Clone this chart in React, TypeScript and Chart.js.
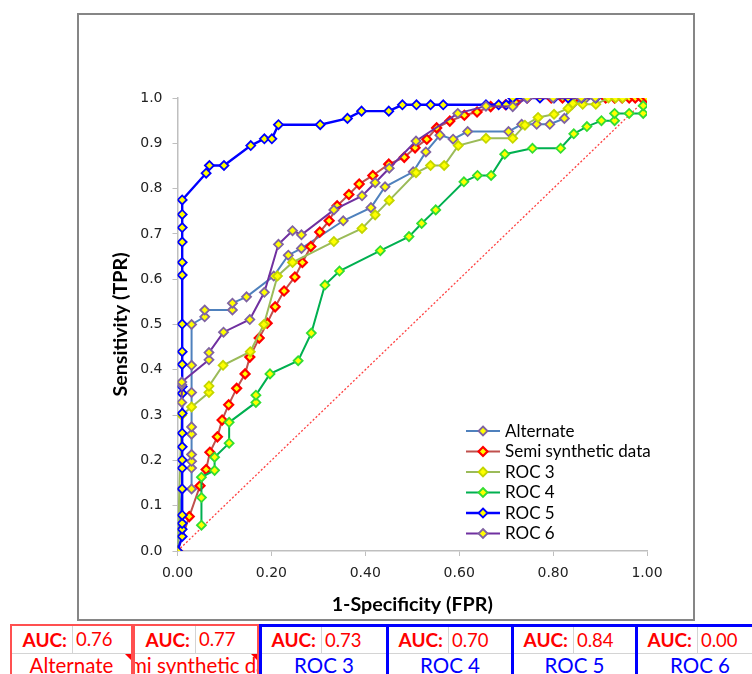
import React, { useEffect, useRef } from "react";
import { Chart, registerables } from "chart.js";

Chart.register(...registerables);

// ---------- data ----------
const seriesNames = ["Alternate", "Semi synthetic data", "ROC 3", "ROC 4", "ROC 5", "ROC 6"];
const aucValues = ["0.76", "0.77", "0.73", "0.70", "0.84", "0.00"];
const tableLabels = ["Alternate", "Semi synthetic data", "ROC 3", "ROC 4", "ROC 5", "ROC 6"];

const xTickValues = [0, 0.2, 0.4, 0.6, 0.8, 1.0];
const yTickValues = [0, 0.1, 0.2, 0.3, 0.4, 0.5, 0.6, 0.7, 0.8, 0.9, 1.0];

const alternateX = [0, 0.009, 0.03, 0.03, 0.03, 0.03, 0.03, 0.03, 0.03, 0.03, 0.03, 0.058, 0.058, 0.117, 0.117, 0.147, 0.205, 0.236, 0.264, 0.353, 0.412, 0.442, 0.502, 0.529, 0.559, 0.587, 0.618, 0.705, 0.733, 0.765, 0.793, 0.824, 0.84, 0.87, 1.0];
const alternateY = [0, 0.137, 0.137, 0.183, 0.198, 0.213, 0.258, 0.274, 0.35, 0.41, 0.5, 0.517, 0.532, 0.532, 0.547, 0.561, 0.607, 0.653, 0.668, 0.729, 0.758, 0.804, 0.837, 0.881, 0.918, 0.909, 0.926, 0.926, 0.942, 0.942, 0.942, 0.955, 0.985, 1.0, 1.0];

const semiX = [0, 0.025, 0.048, 0.061, 0.069, 0.085, 0.095, 0.109, 0.126, 0.144, 0.154, 0.174, 0.191, 0.208, 0.227, 0.25, 0.266, 0.284, 0.303, 0.323, 0.34, 0.365, 0.387, 0.416, 0.45, 0.483, 0.506, 0.531, 0.552, 0.58, 0.611, 0.638, 0.667, 0.699, 0.72, 0.745, 0.796, 0.82, 0.846, 0.912, 0.931, 0.947, 0.962, 0.975, 0.989, 1.0];
const semiY = [0, 0.076, 0.144, 0.18, 0.218, 0.252, 0.289, 0.323, 0.359, 0.391, 0.428, 0.47, 0.503, 0.539, 0.574, 0.605, 0.637, 0.672, 0.704, 0.729, 0.762, 0.787, 0.81, 0.829, 0.854, 0.869, 0.89, 0.909, 0.934, 0.949, 0.962, 0.969, 0.981, 0.985, 0.99, 1, 1, 1, 1, 1, 1, 1, 1, 1, 1, 1];

const roc3X = [0, 0.009, 0.03, 0.067, 0.067, 0.097, 0.155, 0.184, 0.213, 0.245, 0.333, 0.393, 0.421, 0.451, 0.508, 0.539, 0.568, 0.598, 0.657, 0.714, 0.74, 0.768, 0.802, 0.832, 0.842, 0.863, 0.891, 0.918, 0.933, 0.948];
const roc3Y = [0, 0.3, 0.318, 0.35, 0.364, 0.41, 0.44, 0.5, 0.607, 0.637, 0.683, 0.712, 0.742, 0.774, 0.835, 0.851, 0.851, 0.895, 0.911, 0.911, 0.94, 0.957, 0.964, 0.977, 0.988, 0.986, 0.986, 1, 1, 1];

const roc4X = [0.051, 0.051, 0.051, 0.079, 0.079, 0.11, 0.11, 0.167, 0.167, 0.197, 0.257, 0.285, 0.314, 0.345, 0.432, 0.493, 0.52, 0.55, 0.61, 0.639, 0.668, 0.697, 0.756, 0.816, 0.844, 0.872, 0.903, 0.931, 0.931, 0.962, 0.992, 0.992];
const roc4Y = [0.057, 0.118, 0.163, 0.178, 0.207, 0.238, 0.284, 0.328, 0.344, 0.391, 0.42, 0.481, 0.587, 0.618, 0.663, 0.694, 0.723, 0.753, 0.815, 0.829, 0.829, 0.876, 0.889, 0.889, 0.921, 0.937, 0.95, 0.95, 0.966, 0.966, 0.966, 0.983];

const roc5X = [0, 0.01, 0.01, 0.01, 0.01, 0.01, 0.01, 0.01, 0.01, 0.01, 0.01, 0.01, 0.01, 0.01, 0.01, 0.01, 0.01, 0.01, 0.01, 0.01, 0.01, 0.01, 0.061, 0.068, 0.099, 0.156, 0.185, 0.201, 0.215, 0.304, 0.362, 0.392, 0.45, 0.479, 0.509, 0.539, 0.566, 0.657, 0.684, 0.7, 0.714, 0.744, 0.772, 0.802, 0.832, 0.861, 0.891];
const roc5Y = [0, 0.032, 0.048, 0.061, 0.079, 0.137, 0.183, 0.201, 0.23, 0.26, 0.304, 0.348, 0.363, 0.412, 0.44, 0.501, 0.609, 0.637, 0.682, 0.714, 0.743, 0.775, 0.834, 0.851, 0.851, 0.895, 0.91, 0.91, 0.941, 0.941, 0.955, 0.971, 0.971, 0.985, 0.985, 0.985, 0.985, 0.985, 0.985, 0.985, 1, 1, 1, 1, 1, 1, 1];

const roc6X = [0.009, 0.009, 0.009, 0.067, 0.067, 0.098, 0.154, 0.185, 0.215, 0.245, 0.264, 0.333, 0.393, 0.421, 0.451, 0.508, 0.597, 0.657, 0.714, 0.745, 0.8, 0.86, 0.89];
const roc6Y = [0.328, 0.367, 0.373, 0.422, 0.438, 0.483, 0.511, 0.571, 0.677, 0.707, 0.698, 0.753, 0.784, 0.813, 0.845, 0.905, 0.966, 0.982, 0.981, 1, 1, 1, 1];

const diagonalX = [0, 1];
const diagonalY = [0, 1];

// ---------- styles ----------
const lineColors = ["#4f81bd", "#c0504d", "#9bbb59", "#00b050", "#0000ff", "#7030a0"];
const markerBorders = ["#8064a2", "#ff0000", "#c4d600", "#33dd33", "#0000ff", "#8064a2"];
const markerFill = "#ffff00";
const tableColors = ["red", "red", "blue", "blue", "blue", "blue"];
const cellWidths = [123, 126, 127, 125, 124, 127];

const toPoints = (xs: number[], ys: number[]) => xs.map((x, i) => ({ x, y: ys[i] }));

const seriesXs = [alternateX, semiX, roc3X, roc4X, roc5X, roc6X];
const seriesYs = [alternateY, semiY, roc3Y, roc4Y, roc5Y, roc6Y];

const legendPlugin = {
  id: "excelLegend",
  afterDatasetsDraw(chart: any) {
    const { ctx, chartArea } = chart;
    const lineX0 = chartArea.right - 181;
    const lineX1 = chartArea.right - 147;
    const textX = chartArea.right - 142;
    const y0 = chartArea.bottom - 120;
    const step = 20.5;
    ctx.save();
    ctx.font = "17px Lato, 'Open Sans', sans-serif";
    ctx.textBaseline = "middle";
    ctx.textAlign = "left";
    let row = 0;
    chart.data.datasets.forEach((ds: any) => {
      if (!ds.inLegend) return;
      const y = y0 + row * step;
      ctx.strokeStyle = ds.borderColor;
      ctx.lineWidth = ds.borderWidth;
      ctx.beginPath();
      ctx.moveTo(lineX0, y);
      ctx.lineTo(lineX1, y);
      ctx.stroke();
      const cx = (lineX0 + lineX1) / 2;
      const r = ds.pointRadius;
      ctx.beginPath();
      ctx.moveTo(cx, y - r);
      ctx.lineTo(cx + r, y);
      ctx.lineTo(cx, y + r);
      ctx.lineTo(cx - r, y);
      ctx.closePath();
      ctx.fillStyle = ds.pointBackgroundColor;
      ctx.fill();
      ctx.lineWidth = ds.pointBorderWidth;
      ctx.strokeStyle = ds.pointBorderColor;
      ctx.stroke();
      ctx.fillStyle = "#000000";
      ctx.fillText(ds.label, textX, y + 0.5);
      row++;
    });
    ctx.restore();
  },
};

function RocChart() {
  const ref = useRef<HTMLCanvasElement | null>(null);
  useEffect(() => {
    if (!ref.current) return;
    const datasets: any[] = seriesNames.map((name, i) => ({
      label: name,
      data: toPoints(seriesXs[i], seriesYs[i]),
      showLine: true,
      borderColor: lineColors[i],
      borderWidth: i === 4 ? 2.4 : 2,
      pointStyle: "rectRot",
      pointRadius: 4.5,
      pointBackgroundColor: markerFill,
      pointBorderColor: markerBorders[i],
      pointBorderWidth: i === 1 ? 2.2 : 1.8,
      order: 6 - i,
      inLegend: true,
    }));
    datasets.push({
      label: "diagonal",
      data: toPoints(diagonalX, diagonalY),
      showLine: true,
      borderColor: "#ff4040",
      borderWidth: 1.3,
      borderDash: [2, 2],
      pointRadius: 0,
      order: 20,
      inLegend: false,
    });
    const tickFont = { family: "'DejaVu Sans', sans-serif", size: 14 };
    const titleFont = { family: "Lato, 'Open Sans', sans-serif", size: 19.7, weight: "bold" };
    const chart = new Chart(ref.current, {
      type: "scatter",
      data: { datasets },
      plugins: [legendPlugin],
      options: {
        animation: false,
        responsive: false,
        maintainAspectRatio: false,
        layout: { padding: { left: 0, top: 83, right: 46, bottom: 0 } },
        plugins: { legend: { display: false }, tooltip: { enabled: false } },
        elements: { line: { tension: 0 } },
        scales: {
          x: {
            type: "linear",
            min: 0,
            max: 1,
            afterBuildTicks: (s: any) => {
              s.ticks = xTickValues.map((v) => ({ value: v }));
            },
            afterFit: (s: any) => {
              s.height = 68;
            },
            ticks: {
              color: "#222222",
              font: tickFont,
              padding: 9,
              callback: (v: any) => Number(v).toFixed(2),
            },
            grid: { display: true, drawOnChartArea: false, drawTicks: true, tickLength: 5, color: "#bfbfbf" },
            border: { display: true, color: "#bfbfbf", width: 1.5 },
            title: {
              display: true,
              text: "1-Specificity (FPR)",
              color: "#000000",
              font: titleFont,
              padding: { top: 0, bottom: 3 },
            },
          },
          y: {
            type: "linear",
            min: 0,
            max: 1,
            afterBuildTicks: (s: any) => {
              s.ticks = yTickValues.map((v) => ({ value: v }));
            },
            afterFit: (s: any) => {
              s.width = 98.5;
            },
            ticks: {
              color: "#222222",
              font: tickFont,
              padding: 10,
              callback: (v: any) => Number(v).toFixed(1),
            },
            grid: { display: true, drawOnChartArea: false, drawTicks: true, tickLength: 5, color: "#bfbfbf" },
            border: { display: true, color: "#bfbfbf", width: 1.5 },
            title: {
              display: true,
              text: "Sensitivity (TPR)",
              color: "#000000",
              font: titleFont,
              padding: { top: 30, bottom: 0 },
            },
          },
        },
      } as any,
    });
    return () => chart.destroy();
  }, []);
  return <canvas ref={ref} width={614} height={604} style={{ position: "absolute", left: 0, top: 0, width: 614, height: 604 }} />;
}

function AucTable() {
  let left = 10;
  const cells = seriesNames.map((_, i) => {
    const w = cellWidths[i];
    const isRed = tableColors[i] === "red";
    const borderColor = isRed ? "#ff5050" : "#0000ff";
    const bw = isRed ? 2 : 3;
    const textColor = isRed ? "#ff0000" : "#0000ff";
    const cellLeft = left;
    left += w;
    return (
      <div
        key={i}
        style={{
          position: "absolute",
          left: cellLeft,
          top: 0.5,
          width: w,
          height: 60,
          boxSizing: "border-box",
          borderTop: `${bw}px solid ${borderColor}`,
          borderLeft: `${bw}px solid ${borderColor}`,
          borderRight: i < 2 ? `${bw}px solid ${borderColor}` : "none",
          fontFamily: "Lato, 'Open Sans', sans-serif",
        }}
      >
        <div style={{ display: "flex", height: 29 - bw, borderBottom: "1.5px solid #d4d4d4" }}>
          <div
            style={{
              width: 63 - bw,
              flexShrink: 0,
              boxSizing: "border-box",
              display: "flex",
              alignItems: "center",
              justifyContent: "flex-end",
              paddingRight: 5,
              borderRight: "1.5px solid #d4d4d4",
              color: "#ff0000",
              fontWeight: "bold",
              fontSize: 19,
            }}
          >
            AUC:
          </div>
          <div
            style={{
              flex: 1,
              display: "flex",
              alignItems: "center",
              justifyContent: "flex-start",
              paddingLeft: 3,
              color: "#ff0000",
              fontSize: 18.5,
            }}
          >
            {aucValues[i]}
          </div>
        </div>
        <div
          style={{
            position: "relative",
            height: 28,
            display: "flex",
            justifyContent: "center",
            alignItems: "flex-start",
            overflow: "hidden",
            whiteSpace: "nowrap",
            color: textColor,
            fontSize: 20.5,
            lineHeight: "22px",
          }}
        >
          <span style={{ flexShrink: 0 }}>{tableLabels[i]}</span>
          {isRed ? (
            <div
              style={{
                position: "absolute",
                right: 0,
                top: 0,
                width: 0,
                height: 0,
                borderTop: "6px solid #ff0000",
                borderLeft: "6px solid transparent",
              }}
            />
          ) : null}
        </div>
      </div>
    );
  });
  return (
    <div style={{ position: "absolute", left: 0, top: 623, width: 752, height: 51, overflow: "hidden" }}>
      {cells}
    </div>
  );
}

export default function App() {
  return (
    <div style={{ position: "absolute", left: 0, top: 0, width: 752, height: 674, overflow: "hidden", background: "#ffffff" }}>
      <div
        style={{
          position: "absolute",
          left: 77,
          top: 13,
          width: 618,
          height: 608,
          boxSizing: "border-box",
          border: "2px solid #868686",
          background: "#ffffff",
        }}
      >
        <RocChart />
      </div>
      <AucTable />
    </div>
  );
}
